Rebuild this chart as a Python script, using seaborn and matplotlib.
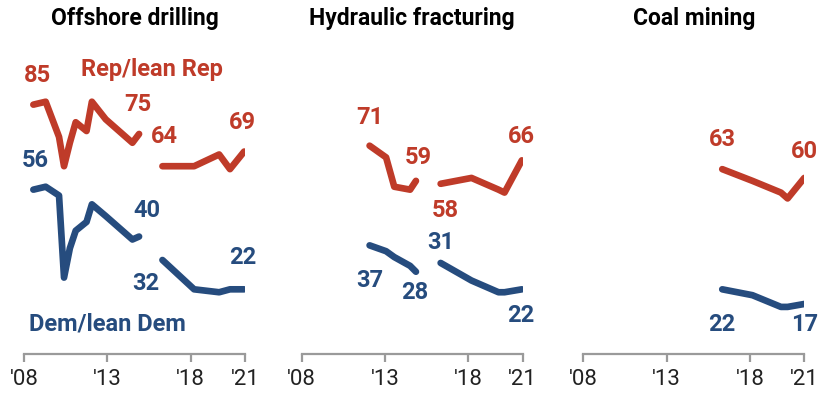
import matplotlib
matplotlib.use("Agg")
import matplotlib.pyplot as plt
import seaborn as sns
import pandas as pd

sns.set_theme(style="white")
plt.rcParams['font.family'] = ['Roboto', 'DejaVu Sans']

# --- data (share of each party saying they favor expanding ...) ---
panels = ["Offshore drilling", "Hydraulic fracturing", "Coal mining"]

# Offshore drilling, two survey segments
off_years_a = [2008.56, 2009.3, 2010.1, 2010.4, 2010.75, 2011.1, 2011.75, 2012.07, 2012.9, 2013.9, 2014.5, 2014.9]
off_rep_a = [85, 86, 74, 64, 72, 79, 76, 86, 80, 75, 72, 75]
off_dem_a = [56, 57, 54, 26, 36, 42, 45, 51, 47, 42, 39, 40]
off_years_b = [2016.3, 2018.2, 2019.7, 2020.35, 2021.2]
off_rep_b = [64, 64, 68, 63, 69]
off_dem_b = [32, 22, 21, 22, 22]

# Hydraulic fracturing
frk_years_a = [2012.07, 2013.06, 2013.55, 2014.5, 2014.85]
frk_rep_a = [71, 67, 57, 56, 59]
frk_dem_a = [37, 35, 33, 30, 28]
frk_years_b = [2016.33, 2018.18, 2019.8, 2020.16, 2021.2]
frk_rep_b = [58, 60, 56, 55, 66]
frk_dem_b = [31, 25, 21, 21, 22]

# Coal mining
coal_years = [2016.33, 2018.14, 2019.85, 2020.25, 2021.25]
coal_rep = [63, 59, 55, 53, 60]
coal_dem = [22, 20, 16, 16, 17]

tick_pos = [2008, 2013, 2018, 2021.25]
tick_labels = ["'08", "'13", "'18", "'21"]

REP = "#BF3B29"
DEM = "#264C7E"
AXIS = "#9A9A9A"


def rows(panel, seg, years, rep, dem):
    out = []
    for y, r, d in zip(years, rep, dem):
        out.append((panel, seg, "Rep", y, r))
        out.append((panel, seg, "Dem", y, d))
    return out


records = []
records += rows(panels[0], 1, off_years_a, off_rep_a, off_dem_a)
records += rows(panels[0], 2, off_years_b, off_rep_b, off_dem_b)
records += rows(panels[1], 1, frk_years_a, frk_rep_a, frk_dem_a)
records += rows(panels[1], 2, frk_years_b, frk_rep_b, frk_dem_b)
records += rows(panels[2], 2, coal_years, coal_rep, coal_dem)
df = pd.DataFrame(records, columns=["panel", "segment", "party", "year", "value"])

# value labels: (panel, text, party, x, y)
labels = [
    (0, "85", "Rep", 2008.8, 95), (0, "75", "Rep", 2014.8, 85), (0, "64", "Rep", 2016.4, 74),
    (0, "69", "Rep", 2021.1, 79), (0, "56", "Dem", 2008.7, 66), (0, "40", "Dem", 2015.4, 49),
    (0, "32", "Dem", 2015.3, 24), (0, "22", "Dem", 2021.1, 33),
    (1, "71", "Rep", 2012.07, 80.5), (1, "59", "Rep", 2015.0, 67), (1, "58", "Rep", 2016.6, 49),
    (1, "66", "Rep", 2021.15, 74), (1, "37", "Dem", 2012.07, 25), (1, "28", "Dem", 2014.75, 21),
    (1, "31", "Dem", 2016.33, 38), (1, "22", "Dem", 2021.15, 13),
    (2, "63", "Rep", 2016.33, 73), (2, "60", "Rep", 2021.25, 69),
    (2, "22", "Dem", 2016.33, 10), (2, "17", "Dem", 2021.25, 10),
]

fig = plt.figure(figsize=(8.2, 3.94), dpi=100)
lefts = [24 / 820, 301.7 / 820, 583.3 / 820]
axes = [fig.add_axes([l, 0.102, 0.2695, 0.744]) for l in lefts]

for i, ax in enumerate(axes):
    sub = df[df["panel"] == panels[i]]
    sns.lineplot(data=sub, x="year", y="value", hue="party", units="segment",
                 estimator=None, palette={"Rep": REP, "Dem": DEM},
                 linewidth=4.8, legend=False, ax=ax,
                 solid_capstyle="round", solid_joinstyle="round")
    ax.set_xlim(2008, 2021.25)
    ax.set_ylim(0, 100)
    ax.set_xlabel("")
    ax.set_ylabel("")
    ax.set_yticks([])
    ax.set_xticks(tick_pos)
    ax.set_xticklabels(tick_labels)
    ax.tick_params(axis="x", direction="out", length=6, width=1.6, color=AXIS,
                   labelsize=16, labelcolor="#222222", pad=5, bottom=True)
    for s in ["top", "left", "right"]:
        ax.spines[s].set_visible(False)
    ax.spines["bottom"].set_color(AXIS)
    ax.spines["bottom"].set_linewidth(1.6)
    ax.set_title(panels[i], fontsize=16.5, fontweight="bold", color="black", pad=26)
    ax.patch.set_alpha(0)
    for p, txt, party, x, y in labels:
        if p == i:
            ax.text(x, y, txt, ha="center", va="center", fontsize=17, fontweight="bold",
                    color=REP if party == "Rep" else DEM, clip_on=False)

axes[0].text(2015.7, 97, "Rep/lean Rep", ha="center", va="center", fontsize=17,
             fontweight="bold", color=REP)
axes[0].text(2013.0, 10, "Dem/lean Dem", ha="center", va="center", fontsize=17,
             fontweight="bold", color=DEM)

fig.savefig("out.png", dpi=100)
